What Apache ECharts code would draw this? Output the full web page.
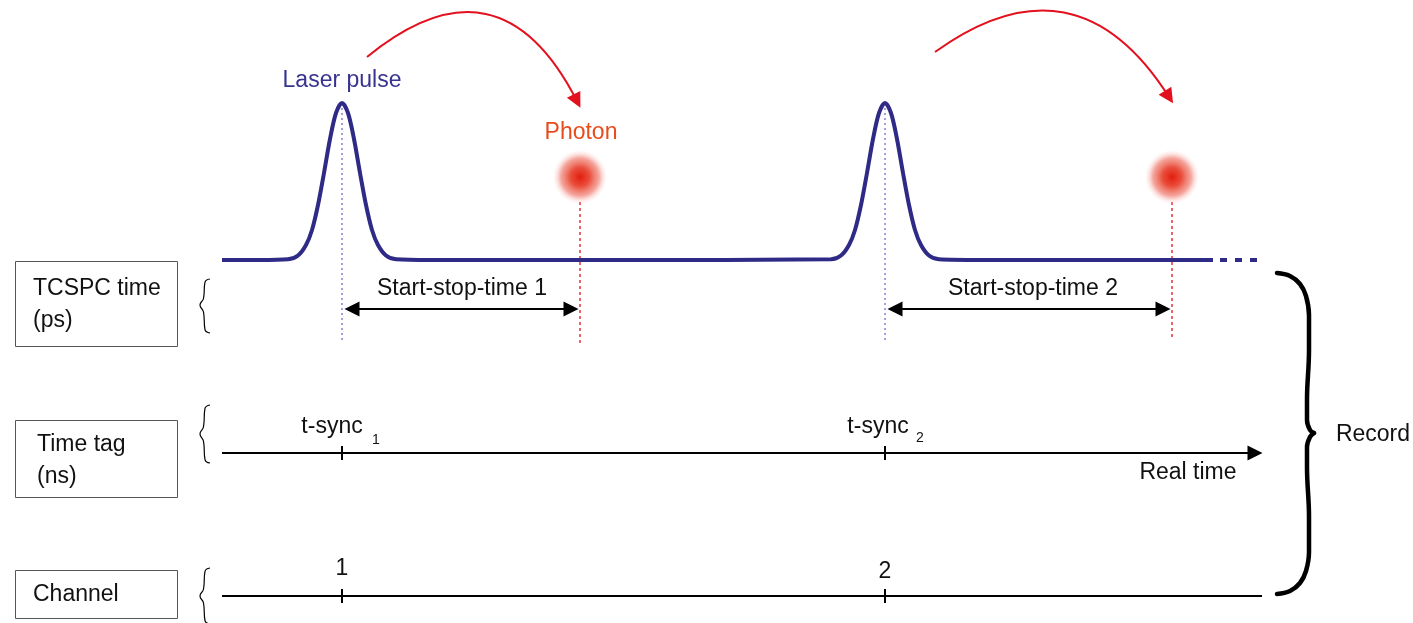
<!DOCTYPE html>
<html>
<head>
<meta charset="utf-8">
<title>TCSPC record</title>
<script src="https://cdn.jsdelivr.net/npm/echarts@6/dist/echarts.min.js"></script>
<style>
html, body { margin: 0; padding: 0; background: #fff; }
#chart { width: 1413px; height: 623px; }
</style>
</head>
<body>
<div id="chart"></div>
<script>
// diagram units: x runs 0..1413 left to right, y runs 0..623 top to bottom

// laser pulse trace (two pulses on a flat baseline)
const pulseLine = [
  [222,260],[260,260],[288,259.3],[298,255.5],[306,245],[312,230],[318,205],[324,173],[330,139],[336,113],[342,103],
  [348,113],[354,139],[360,173],[366,205],[372,230],[378,245],[386,255.5],[396,259.3],[430,260],[620,260],
  [831,259.3],[841,255.5],[849,245],[855,230],[861,205],[867,173],[873,139],[879,113],[885,103],
  [891,113],[897,139],[903,173],[909,205],[915,230],[921,245],[929,255.5],[939,259.3],[980,260],[1213,260]
]
const pulseTail = [[1220,260],[1257,260]]

// photons
const photonX = [580, 1172]
const photonY = [177, 177]

// left boxes [x0, y0, x1, y1] and their texts
const boxes = [[15,261,177,346],[15,420,177,497],[15,570,177,618]]
const boxTexts = ['TCSPC time\n(ps)', 'Time tag\n(ns)', 'Channel']
const boxTextPos = [[33,305],[37,461],[33,595]]

// small "{" braces next to the boxes: [top, tip, bottom]
const smallBraces = [[279,305,333],[405,434,463],[568,596,624]]
const smallBraceX = [210, 200]

// big "}" brace on the right
const bigBraceTop = [[1277,273],[1290,276],[1300,284],[1306,296],[1309,315],[1309,350],[1307,400],[1307,420],[1310,430],[1314,433]]
const bigBraceBottom = [[1314,433],[1310,437],[1307,447],[1307,467],[1309,517],[1309,552],[1306,571],[1300,583],[1290,591],[1277,594]]

// straight marks
const dottedPurple = [[[342,108],[342,342]], [[885,108],[885,340]]]
const dottedRed = [[[580,202],[580,346]], [[1172,202],[1172,340]]]
const doubleArrows = [[[352,309],[571,309]], [[895,309],[1163,309]]]
const timeAxis = [[222,453],[1255,453]]
const channelAxis = [[222,596],[1262,596]]
const tickX = [342, 885]
const timeTickY = [446, 460]
const channelTickY = [589, 603]

// red curved arrows [start, end]
const redArcs = [[[367,57],[577,101]], [[935,52],[1169,97]]]
const arcCurve = [0.62, 0.53]

// text labels
const blackLabels = [
  ['Start-stop-time 1', 462, 289], ['Start-stop-time 2', 1033, 289],
  ['t-sync', 332, 427], ['t-sync', 878, 427],
  ['Real time', 1188, 473], ['1', 342, 569], ['2', 885, 572], ['Record', 1373, 435]
]
const subLabels = [['1', 376, 440], ['2', 920, 438]]

const FONT = '"Liberation Sans", Arial, sans-serif'
const DARK = '#111'
const PULSE = '#2e2a86'

let series = []

// boxes
series.push({
  type: 'custom',
  encode: { x: [0, 2], y: [1, 3] },
  renderItem: function (params, api) {
    let p0 = api.coord([api.value(0), api.value(1)])
    let p1 = api.coord([api.value(2), api.value(3)])
    return {
      type: 'rect',
      shape: { x: p0[0] + 0.5, y: p0[1] + 0.5, width: p1[0] - p0[0], height: p1[1] - p0[1] },
      style: { fill: '#fff', stroke: '#555', lineWidth: 1 }
    }
  },
  data: boxes
})

// dotted guide lines
series.push({
  type: 'lines', coordinateSystem: 'cartesian2d', symbol: 'none', z: 2,
  lineStyle: { color: '#8581d6', width: 1.5, type: [2, 3], opacity: 1 },
  data: dottedPurple.map(c => ({ coords: c }))
})
series.push({
  type: 'lines', coordinateSystem: 'cartesian2d', symbol: 'none', z: 2,
  lineStyle: { color: '#e8303a', width: 1.5, type: [3, 3], opacity: 1 },
  data: dottedRed.map(c => ({ coords: c }))
})

// pulse trace
series.push({
  type: 'line', data: pulseLine, smooth: 0.3, symbol: 'none', z: 3,
  lineStyle: { color: PULSE, width: 4 }
})
series.push({
  type: 'line', data: pulseTail, symbol: 'none', z: 3,
  lineStyle: { color: PULSE, width: 4, type: [7, 8] }
})

// photons
series.push({
  type: 'scatter', symbol: 'circle', symbolSize: 54, z: 4,
  itemStyle: {
    opacity: 1,
    color: {
      type: 'radial', x: 0.5, y: 0.5, r: 0.5,
      colorStops: [
        { offset: 0, color: 'rgba(226,30,14,1)' },
        { offset: 0.35, color: 'rgba(232,62,42,0.92)' },
        { offset: 0.7, color: 'rgba(238,105,90,0.6)' },
        { offset: 0.88, color: 'rgba(243,150,140,0.2)' },
        { offset: 1, color: 'rgba(245,170,165,0)' }
      ]
    }
  },
  data: photonX.map((x, i) => [x, photonY[i]])
})

// double arrows
series.push({
  type: 'lines', coordinateSystem: 'cartesian2d',
  symbol: ['triangle', 'triangle'], symbolSize: 15,
  lineStyle: { color: '#000', width: 2, opacity: 1 },
  data: doubleArrows.map(c => ({ coords: c }))
})

// time axis with arrow, channel axis
series.push({
  type: 'lines', coordinateSystem: 'cartesian2d',
  symbol: ['none', 'triangle'], symbolSize: 15,
  lineStyle: { color: '#000', width: 2, opacity: 1 },
  data: [{ coords: timeAxis }]
})
series.push({
  type: 'lines', coordinateSystem: 'cartesian2d', symbol: 'none',
  lineStyle: { color: '#000', width: 2, opacity: 1 },
  data: [{ coords: channelAxis }]
})

// ticks
let ticks = []
tickX.forEach(x => {
  ticks.push({ coords: [[x, timeTickY[0]], [x, timeTickY[1]]] })
  ticks.push({ coords: [[x, channelTickY[0]], [x, channelTickY[1]]] })
})
series.push({
  type: 'lines', coordinateSystem: 'cartesian2d', symbol: 'none',
  lineStyle: { color: '#000', width: 2, opacity: 1 },
  data: ticks
})

// red arcs
redArcs.forEach((c, i) => {
  series.push({
    type: 'lines', coordinateSystem: 'cartesian2d',
    symbol: ['none', 'triangle'], symbolSize: 15,
    lineStyle: { color: '#e3101d', width: 2, opacity: 1, curveness: arcCurve[i] },
    data: [{ coords: c }]
  })
})

// small braces
smallBraces.forEach(b => {
  let xr = smallBraceX[0], xl = smallBraceX[1]
  let half1 = (b[1] - b[0]), half2 = (b[2] - b[1])
  series.push({
    type: 'line', smooth: 0.5, symbol: 'none',
    lineStyle: { color: '#000', width: 1.2 },
    data: [[xr, b[0]], [xr - 5, b[0] + half1 * 0.12], [xr - 6.5, b[0] + half1 * 0.75], [xl, b[1]],
           [xr - 6.5, b[1] + half2 * 0.25], [xr - 5, b[1] + half2 * 0.88], [xr, b[2]]]
  })
})

// big brace
;[bigBraceTop, bigBraceBottom].forEach(d => {
  series.push({
    type: 'line', smooth: 0.4, symbol: 'none',
    lineStyle: { color: '#000', width: 4.5, cap: 'round' },
    data: d
  })
})

// labels
function textSeries (items, style) {
  return {
    type: 'scatter', symbolSize: 0, z: 10,
    itemStyle: { opacity: 1 },
    label: Object.assign({ show: true, position: 'inside', formatter: p => p.name, fontFamily: FONT, opacity: 1 }, style),
    data: items.map(t => ({ name: t[0], value: [t[1], t[2]] }))
  }
}
series.push(textSeries(blackLabels, { color: DARK, fontSize: 23 }))
series.push(textSeries(subLabels, { color: DARK, fontSize: 14 }))
series.push(textSeries([['Laser pulse', 342, 81]], { color: '#37338f', fontSize: 23 }))
series.push(textSeries([['Photon', 581, 133]], { color: '#e84b1c', fontSize: 23 }))
series.push(textSeries(boxTexts.map((t, i) => [t, boxTextPos[i][0], boxTextPos[i][1]]),
  { color: DARK, fontSize: 23, align: 'left', lineHeight: 32 }))

let myChart = echarts.init(document.getElementById('chart'))
let option = {
  animation: false,
  backgroundColor: '#fff',
  grid: { left: 0, right: 0, top: 0, bottom: 0 },
  xAxis: { type: 'value', min: 0, max: 1413, show: false },
  yAxis: { type: 'value', min: 0, max: 623, inverse: true, show: false },
  series: series
}
myChart.setOption(option)
</script>
</body>
</html>
